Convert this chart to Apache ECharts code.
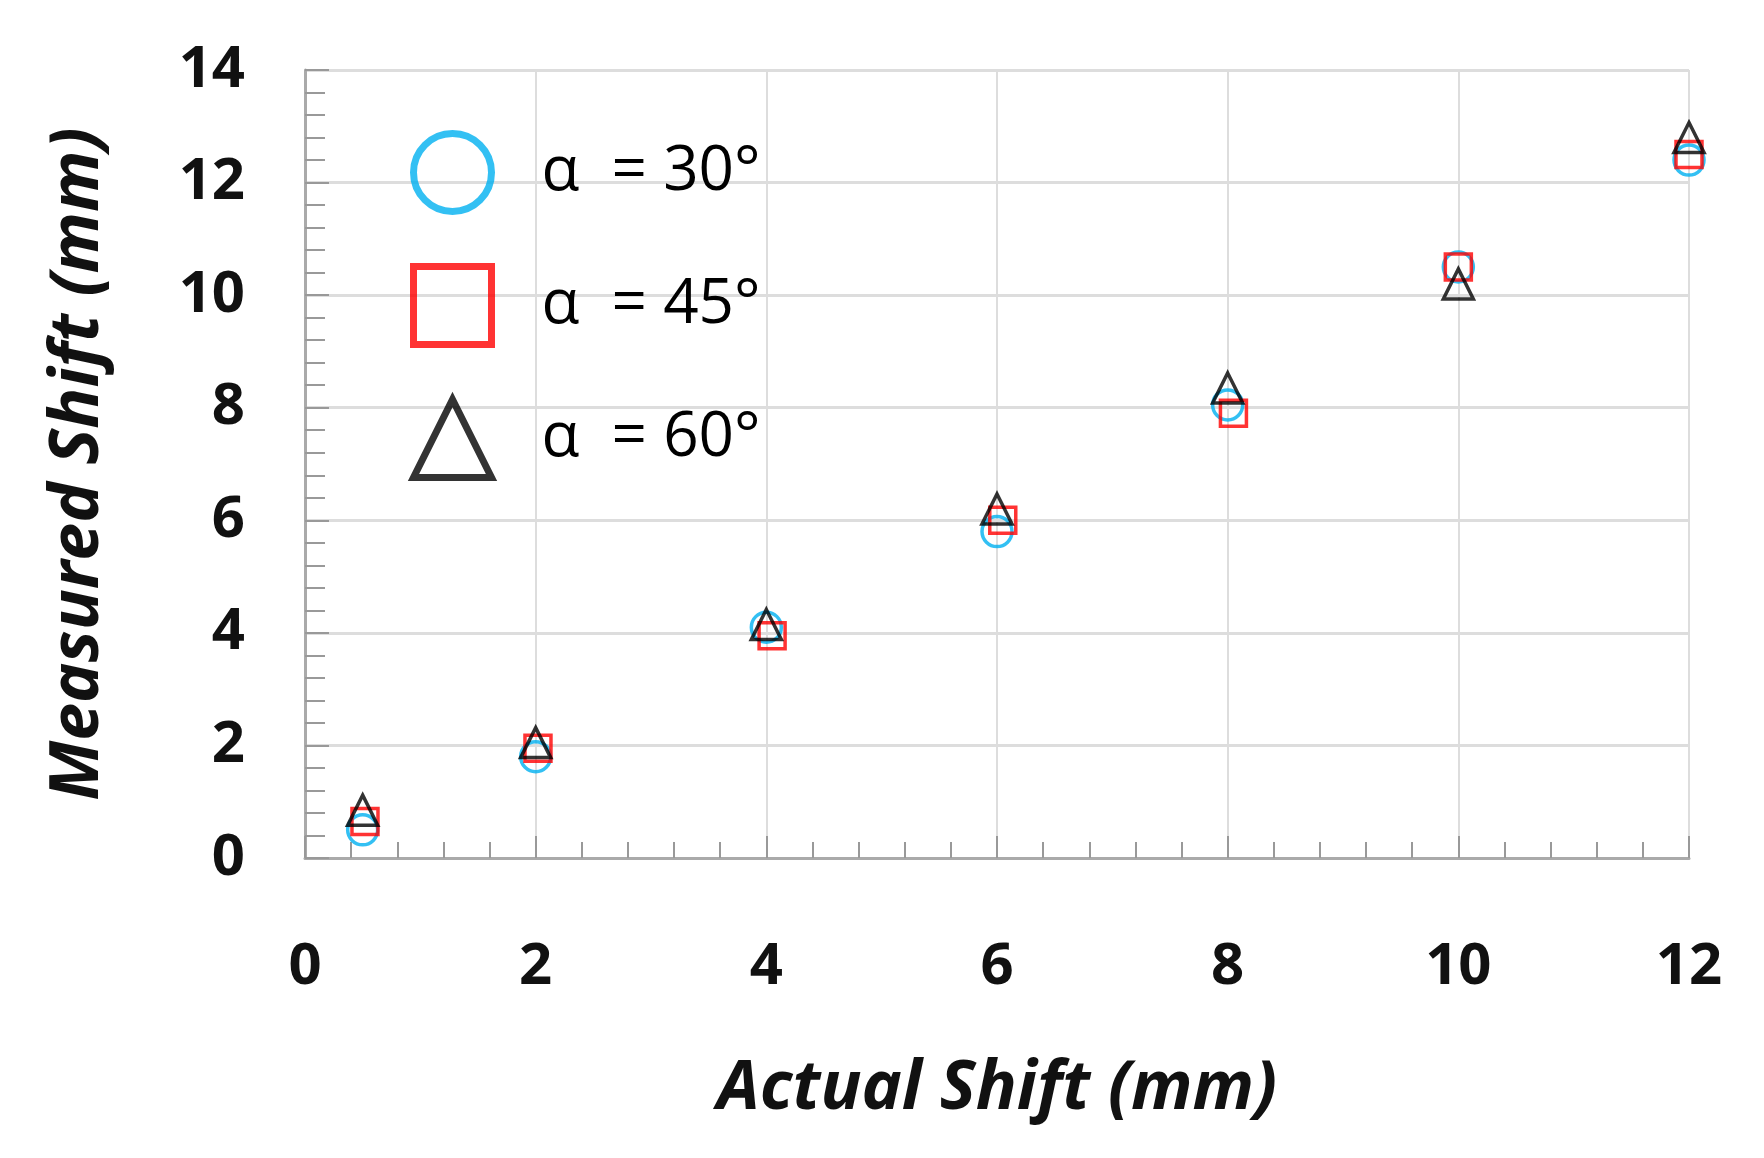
<!DOCTYPE html>
<html><head><meta charset="utf-8">
<script src="https://cdn.jsdelivr.net/npm/echarts@6/dist/echarts.min.js"></script>
<style>html,body{margin:0;background:#fff}#c{width:1764px;height:1158px}</style>
</head><body><div id="c"></div>
<script>
const xActual = [0.5, 2, 4, 6, 8, 10, 12];
const xSquare = [0.52, 2.02, 4.05, 6.05, 8.05, 10.0, 12.0];
const a30 = [0.5, 1.8, 4.1, 5.8, 8.05, 10.5, 12.4];
const a45 = [0.65, 1.95, 3.95, 6.0, 7.9, 10.5, 12.5];
const a60 = [0.85, 2.05, 4.15, 6.2, 8.35, 10.2, 12.8];
const names = ['α  = 30°', 'α  = 45°', 'α  = 60°'];
const zip = (xs, ys) => xs.map((x, i) => [x, ys[i]]);
const chart = echarts.init(document.getElementById('c'));
const mk = (name, sym, color, xs, ys, size) => ({
  name, type: 'scatter', symbol: sym, symbolSize: size, data: zip(xs, ys),
  itemStyle: {color: 'rgba(0,0,0,0)', borderColor: color, borderWidth: 3.5}
});
chart.setOption({
  animation: false,
  grid: {left: 305, right: 75, top: 70, bottom: 300},
  legend: {
    orient: 'vertical', left: 405, top: 125, itemWidth: 78, itemHeight: 78, itemGap: 48,
    textStyle: {fontSize: 62, fontFamily: 'Open Sans', color: '#000', padding: [0,0,0,45],
      rich: {}},
    itemStyle: {borderWidth: 7}
  },
  xAxis: {
    type: 'value', min: 0, max: 12, interval: 2,
    axisLine: {lineStyle: {color: '#aaa', width: 3}},
    axisTick: {inside: true, length: 22, lineStyle: {color: '#999', width: 2}},
    minorTick: {show: true, splitNumber: 5, length: 16, lineStyle: {color: '#999', width: 2}},
    splitLine: {show: true, lineStyle: {color: '#ddd', width: 2}},
    axisLabel: {margin: 80, fontSize: 58, fontWeight: 'bold', fontFamily: 'Open Sans', color: '#111'},
    name: 'Actual Shift (mm)', nameLocation: 'middle', nameGap: 198,
    nameTextStyle: {fontSize: 68, fontWeight: 'bold', fontStyle: 'italic', fontFamily: 'Open Sans', color: '#111'}
  },
  yAxis: {
    type: 'value', min: 0, max: 14, interval: 2,
    axisLine: {lineStyle: {color: '#aaa', width: 3}},
    axisTick: {inside: true, length: 24, lineStyle: {color: '#999', width: 2}},
    minorTick: {show: true, splitNumber: 5, length: 20, lineStyle: {color: '#999', width: 2}},
    splitLine: {show: true, lineStyle: {color: '#ddd', width: 3}},
    axisLabel: {margin: 60, fontSize: 58, fontWeight: 'bold', fontFamily: 'Open Sans', color: '#111'},
    name: 'Measured Shift (mm)', nameLocation: 'middle', nameGap: 192,
    nameTextStyle: {fontSize: 68, fontWeight: 'bold', fontStyle: 'italic', fontFamily: 'Open Sans', color: '#111'}
  },
  series: [
    mk(names[0], 'circle', '#00b0f0', xActual, a30, 30),
    mk(names[1], 'rect', '#ff0000', xSquare, a45, 26),
    mk(names[2], 'triangle', '#000000', xActual, a60, 30)
  ]
});
</script></body></html>
